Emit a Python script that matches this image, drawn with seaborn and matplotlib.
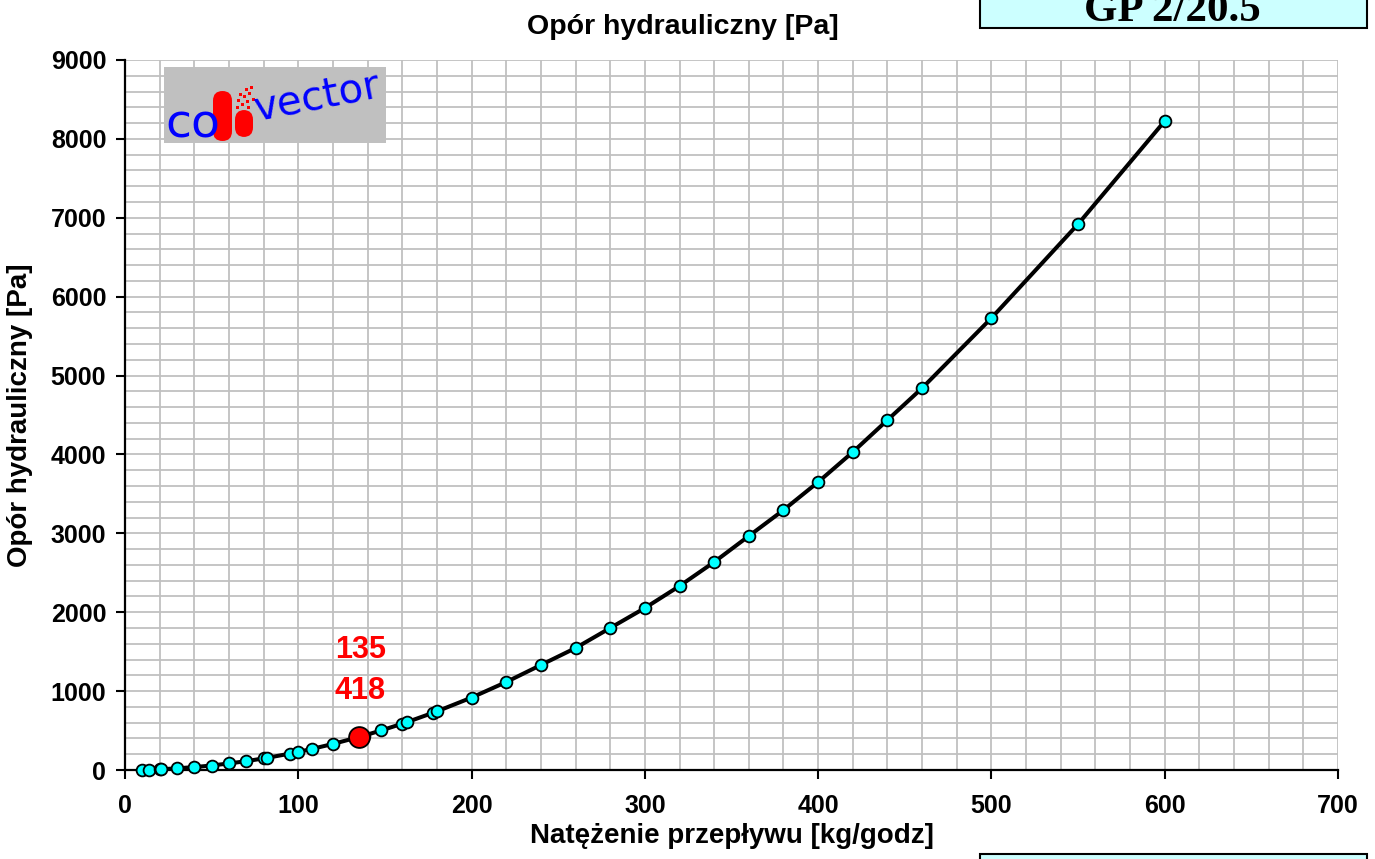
import matplotlib
matplotlib.use("Agg")
import matplotlib.pyplot as plt
from matplotlib.patches import Rectangle, FancyBboxPatch
from matplotlib.ticker import MultipleLocator
import seaborn as sns
import pandas as pd

# Flow rate [kg/h] and measured hydraulic resistance [Pa]
flow = [10, 14, 20, 21, 30, 40, 50, 60, 70, 80, 82, 95, 100, 108, 120, 138,
        148, 160, 163, 178, 180, 200, 220, 240, 260, 280, 300, 320, 340, 360,
        380, 400, 420, 440, 460, 500, 550, 600]
resistance = [2, 5, 9, 10, 21, 37, 57, 83, 112, 147, 154, 207, 229, 268, 330, 437,
              502, 587, 609, 727, 743, 918, 1115, 1331, 1546, 1800, 2053, 2332, 2636, 2966,
              3295, 3650, 4030, 4436, 4841, 5729, 6920, 8226]

# Selected operating point
selected_flow = 135
selected_resistance = 418

x_ticks = list(range(0, 701, 100))
y_ticks = list(range(0, 9001, 1000))

title = "Opór hydrauliczny [Pa]"
x_label = "Natężenie przepływu [kg/godz]"
y_label = "Opór hydrauliczny [Pa]"
model_name = "GP 2/20.5"

sns.set_theme(style="white")
plt.rcParams["font.family"] = ["Liberation Sans", "DejaVu Sans"]
plt.rcParams["font.weight"] = "bold"
for key in ("text.color", "axes.labelcolor", "xtick.color", "ytick.color"):
    plt.rcParams[key] = "black"

W, H = 1375, 859
fig = plt.figure(figsize=(W / 100, H / 100), dpi=100)
fig.patch.set_facecolor("white")


def fx(px):
    return px / W


def fy(py):
    return 1 - py / H


ax = fig.add_axes([fx(125), fy(770), fx(1338) - fx(125), fy(60) - fy(770)])
ax.set_facecolor("white")

points = pd.DataFrame({"flow": flow, "resistance": resistance})
curve = pd.concat(
    [points, pd.DataFrame({"flow": [selected_flow], "resistance": [selected_resistance]})],
    ignore_index=True,
).sort_values("flow")

sns.lineplot(data=curve, x="flow", y="resistance", color="black", linewidth=2.9,
             estimator=None, sort=True, ax=ax, zorder=3)
sns.scatterplot(data=points, x="flow", y="resistance", color="#00FFFF", edgecolor="black",
                linewidth=1.3, s=72, ax=ax, zorder=4, clip_on=False)
sns.scatterplot(x=[selected_flow], y=[selected_resistance], color="#FF0000", edgecolor="black",
                linewidth=1.3, s=225, ax=ax, zorder=5, clip_on=False)

ax.annotate(f"{selected_resistance}", xy=(selected_flow, selected_resistance),
            xytext=(1, 33), textcoords="offset points", ha="center", va="center",
            color="#FF0000", fontsize=22, fontweight="bold")
ax.annotate(f"{selected_flow}", xy=(selected_flow, selected_resistance),
            xytext=(1, 63), textcoords="offset points", ha="center", va="center",
            color="#FF0000", fontsize=22, fontweight="bold")

ax.set_xlim(0, 700)
ax.set_ylim(0, 9000)
ax.set_xticks(x_ticks)
ax.set_yticks(y_ticks)
ax.xaxis.set_minor_locator(MultipleLocator(20))
ax.yaxis.set_minor_locator(MultipleLocator(200))
ax.grid(which="both", color="#C0C0C0", linewidth=1.3)
ax.set_axisbelow(True)

for side in ("top", "right"):
    ax.spines[side].set_visible(False)
for side in ("left", "bottom"):
    ax.spines[side].set_color("black")
    ax.spines[side].set_linewidth(1.6)
    ax.spines[side].set_zorder(2.5)

ax.tick_params(which="major", direction="out", length=6.5, width=1.5, color="black",
               labelcolor="black", labelsize=18, left=True, bottom=True)
ax.tick_params(which="minor", length=0)
ax.tick_params(axis="y", pad=7)
ax.tick_params(axis="x", pad=11)
for lbl in ax.get_xticklabels() + ax.get_yticklabels():
    lbl.set_fontweight("bold")

ax.set_xlabel("")
ax.set_ylabel("")
fig.text(fx(732), fy(836), x_label, ha="center", va="center", fontsize=20,
         fontweight="bold", color="black")
fig.text(fx(20), fy(415), y_label, ha="center", va="center", rotation=90,
         fontsize=20, fontweight="bold", color="black")
fig.text(fx(683), fy(27), title, ha="center", va="center", fontsize=20.5,
         fontweight="bold", color="black")

# Model name box at the top right
fig.add_artist(Rectangle((fx(980), fy(28)), fx(1367) - fx(980), fy(-10) - fy(28),
                         transform=fig.transFigure, facecolor="#CCFFFF",
                         edgecolor="black", linewidth=1.5))
fig.text(fx(1172), fy(21), model_name, ha="center", va="baseline", color="black",
         fontsize=31, fontweight="bold", family=["Liberation Serif", "DejaVu Serif"])

# Empty box at the bottom right
fig.add_artist(Rectangle((fx(980), fy(880)), fx(1367) - fx(980), fy(854) - fy(880),
                         transform=fig.transFigure, facecolor="#CCFFFF",
                         edgecolor="black", linewidth=1.5))

# Company logo
fig.add_artist(Rectangle((fx(164), fy(143)), fx(386) - fx(164), fy(67) - fy(143),
                         transform=fig.transFigure, facecolor="#C0C0C0",
                         edgecolor="none", zorder=6))
fig.text(fx(165), fy(137), "co", ha="left", va="baseline", color="#0000FF",
         fontsize=34, family=["DejaVu Sans"], fontweight="normal", zorder=7)
fig.text(fx(257), fy(121), "vector", ha="left", va="baseline", color="#0000FF",
         fontsize=29, family=["DejaVu Sans"], fontweight="normal", rotation=11,
         rotation_mode="anchor", zorder=7)
fig.add_artist(FancyBboxPatch((fx(213), fy(141)), fx(232) - fx(213), fy(91) - fy(141),
                              boxstyle="round,pad=0,rounding_size=0.007",
                              transform=fig.transFigure, facecolor="#FF0000",
                              edgecolor="none", zorder=7, mutation_aspect=1.6))
fig.add_artist(FancyBboxPatch((fx(235), fy(137)), fx(253) - fx(235), fy(110) - fy(137),
                              boxstyle="round,pad=0,rounding_size=0.007",
                              transform=fig.transFigure, facecolor="#FF0000",
                              edgecolor="none", zorder=7, mutation_aspect=1.6))
for sx, sy in [(236, 106), (241, 103), (246, 100), (237, 99), (243, 95), (248, 92),
               (239, 93), (250, 86), (245, 88), (252, 98), (247, 106)]:
    fig.add_artist(Rectangle((fx(sx), fy(sy + 3)), fx(3), 3 / H,
                             transform=fig.transFigure, facecolor="#FF0000",
                             edgecolor="none", zorder=7))

fig.savefig("out.png", dpi=100)
